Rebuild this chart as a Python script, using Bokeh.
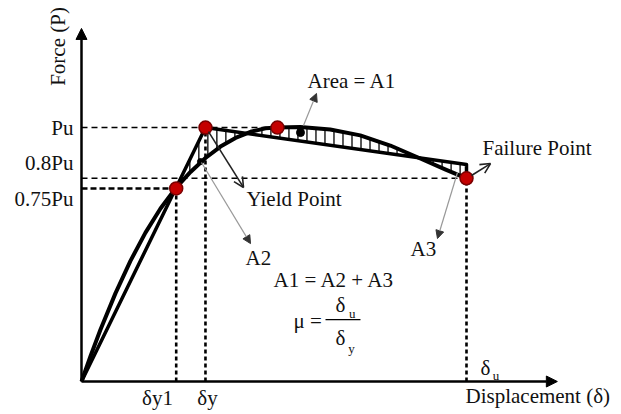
import numpy as np
from bokeh.plotting import figure
from bokeh.models import Arrow, NormalHead, OpenHead, Range1d
from bokeh.core.properties import value
from bokeh.embed import file_html
from bokeh.resources import INLINE

# ---- data (displacement in arbitrary units, force as fraction of Pu) ----
curve_disp = [0, 1.17, 2.47, 4.42, 6.36, 8.31, 10.26, 12.21, 14.16, 16.10, 18.05,
              20.0, 21.95, 23.9, 25.45, 28.4, 32.3, 36.2, 40.1, 44.0, 47.3, 50.0]
curve_force = [0, 0.100, 0.205, 0.348, 0.475, 0.586, 0.681, 0.760, 0.825, 0.880, 0.925,
               0.959, 0.983, 0.997, 1.000, 1.002, 0.992, 0.969, 0.929, 0.878, 0.834, 0.800]

bilin_disp = [0, 16.10, 50.0, 50.0]
bilin_force = [0, 1.000, 0.854, 0.800]

Pu = 1.0
P08 = 0.80
P075 = 0.76
d_y1 = 12.3
d_y = 16.10
d_peak = 25.45
d_u = 50.0

key_disp = [d_y1, d_y, d_peak, d_u]
key_force = [P075, Pu, Pu, P08]

x_axis_end = 61.8
y_axis_end = 1.39

FONT = "Liberation Serif"

p = figure(width=621, height=414, x_range=Range1d(-10.519, 70.13),
           y_range=Range1d(-0.1299, 1.5), output_backend="svg",
           toolbar_location=None, min_border=0,
           x_axis_location=None, y_axis_location=None)
p.grid.visible = False
p.outline_line_color = None
p.background_fill_color = "white"

# axes with arrows
p.add_layout(Arrow(end=NormalHead(size=11, fill_color="black", line_color="black"),
                   x_start=0, y_start=0, x_end=0, y_end=y_axis_end,
                   line_width=2.5, line_color="black"))
p.add_layout(Arrow(end=NormalHead(size=11, fill_color="black", line_color="black"),
                   x_start=0, y_start=0, x_end=x_axis_end, y_end=0,
                   line_width=2.5, line_color="black"))

# dashed reference lines
p.line([0, d_peak], [Pu, Pu], line_color="black", line_width=1.6, line_dash="6 4")
p.line([0, d_u], [P08, P08], line_color="black", line_width=1.6, line_dash="6 4")
p.line([0, d_y1], [P075, P075], line_color="black", line_width=2.6, line_dash="6 3")
p.line([d_y1, d_y1], [0, P075], line_color="black", line_width=2.6, line_dash="4 3")
p.line([d_y, d_y], [0, Pu], line_color="black", line_width=2.6, line_dash="4 3")
p.line([d_u, d_u], [0, P08], line_color="black", line_width=2.6, line_dash="4 3")

# hatching between actual curve and bilinear idealisation
hx = np.arange(d_y1 + 0.6, d_u - 0.2, 1.17)
hy0 = np.interp(hx, curve_disp, curve_force)
hy1 = np.interp(hx, bilin_disp[:3], bilin_force[:3])
p.segment(x0=hx, y0=hy0, x1=hx, y1=hy1, line_color="black", line_width=1.3)

# curves
p.line(curve_disp, curve_force, line_color="black", line_width=4, line_join="round")
p.line(bilin_disp, bilin_force, line_color="black", line_width=3.5, line_join="round")

# small dots in areas
p.scatter([15.45, 28.44], [0.866, 0.980], size=[6, 8], color="black")

# key points
p.scatter(key_disp, key_force, size=13, fill_color="#c40000", line_color="#7a0000", line_width=1.5)

# arrows
grey_head = dict(size=8, fill_color="#333333", line_color="#333333")
p.add_layout(Arrow(end=NormalHead(**grey_head), x_start=28.83, y_start=1.008,
                   x_end=30.52, y_end=1.134, line_color="#999999", line_width=1.2))
p.add_layout(Arrow(end=NormalHead(**grey_head), x_start=15.58, y_start=0.862,
                   x_end=21.95, y_end=0.543, line_color="#999999", line_width=1.2))
p.add_layout(Arrow(end=NormalHead(**grey_head), x_start=48.83, y_start=0.823,
                   x_end=46.23, y_end=0.563, line_color="#999999", line_width=1.2))
p.add_layout(Arrow(end=OpenHead(size=10, line_width=1.6, line_color="#222222"),
                   x_start=16.49, y_start=0.984, x_end=21.04, y_end=0.764,
                   line_color="#222222", line_width=1.6))
p.add_layout(Arrow(end=OpenHead(size=10, line_width=1.6, line_color="#222222"),
                   x_start=50.65, y_start=0.811, x_end=53.12, y_end=0.858,
                   line_color="#222222", line_width=1.6))

# fraction bar
p.line([31.69, 36.23], [0.244, 0.244], line_color="black", line_width=1.2)

# texts
left_labels = ["Area = A1", "Yield Point", "A2", "A3", "Failure Point",
               "A1 = A2 + A3", "\u03bc =", "\u03b4", "\u03b4", "\u03b4", "Displacement (\u03b4)"]
left_x = [29.35, 21.43, 21.30, 42.73, 52.08, 24.94, 27.53, 32.99, 32.99, 51.82, 49.87]
left_y = [1.185, 0.717, 0.488, 0.520, 0.921, 0.398, 0.240, 0.303, 0.173, 0.052, -0.059]
p.text(x=left_x, y=left_y, text=left_labels, text_font=value(FONT), text_font_size="21px",
       text_align="left", text_baseline="middle", text_color="#111111")

right_labels = ["Pu", "0.8Pu", "0.75Pu"]
right_x = [-1.04, -1.04, -1.04]
right_y = [1.0, 0.862, 0.717]
p.text(x=right_x, y=right_y, text=right_labels, text_font=value(FONT), text_font_size="21px",
       text_align="right", text_baseline="middle", text_color="#111111")

center_labels = ["\u03b4y1", "\u03b4y"]
center_x = [9.87, 16.36]
center_y = [-0.063, -0.063]
p.text(x=center_x, y=center_y, text=center_labels, text_font=value(FONT), text_font_size="21px",
       text_align="center", text_baseline="middle", text_color="#111111")

sub_labels = ["u", "y", "u"]
sub_x = [34.75, 34.65, 53.4]
sub_y = [0.268, 0.130, 0.022]
p.text(x=sub_x, y=sub_y, text=sub_labels, text_font=value(FONT), text_font_size="13px",
       text_align="left", text_baseline="middle", text_color="#111111")

p.text(x=[-2.99], y=[1.319], text=["Force (P)"], angle=np.pi / 2, text_font=value(FONT),
       text_font_size="21px", text_align="center", text_baseline="middle", text_color="#111111")

open("out.html", "w").write(file_html(p, INLINE))
